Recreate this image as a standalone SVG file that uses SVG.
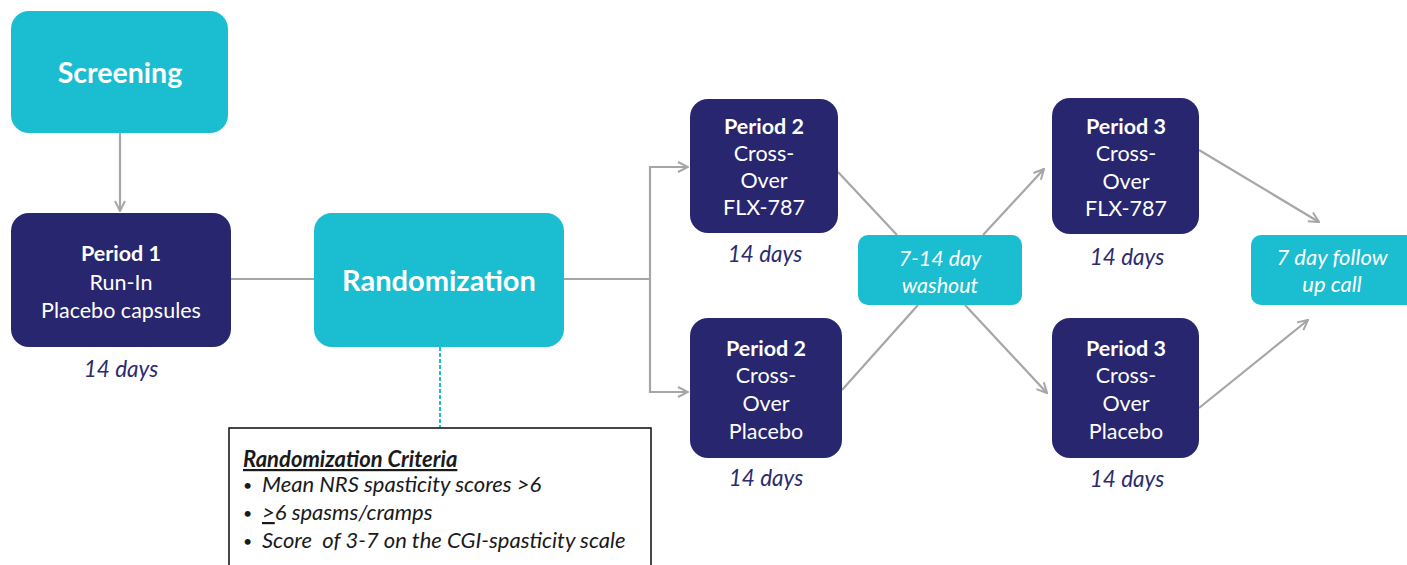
<svg xmlns="http://www.w3.org/2000/svg" width="1407" height="565" viewBox="0 0 1407 565">
<defs>
<marker id="arr" viewBox="0 0 12 12" refX="11" refY="6" markerWidth="12" markerHeight="12" markerUnits="userSpaceOnUse" orient="auto">
<path d="M1,1 L11,6 L1,11" fill="none" stroke="#a6a6a6" stroke-width="2"/>
</marker>
<style>
.cy{fill:#1bbdd0}
.nv{fill:#28266f}
.wt{fill:#ffffff;font-family:Lato,"Liberation Sans",sans-serif;text-anchor:middle}
.b{font-weight:bold}
.days{fill:#2b2a70;font-family:Lato,"Liberation Sans",sans-serif;font-style:italic;font-size:22.5px;text-anchor:middle}
.ln{fill:none;stroke:#a6a6a6;stroke-width:2.2}
.crit{font-family:Lato,"Liberation Sans",sans-serif;font-style:italic;font-size:22px;fill:#1a1a1a}
.bul{font-family:Lato,"Liberation Sans",sans-serif;font-size:16px;fill:#1a1a1a}
</style>
</defs>
<rect width="1407" height="565" fill="#ffffff"/>
<g id="connectors">
<line class="ln" x1="120" y1="133" x2="120" y2="211" marker-end="url(#arr)"/>
<line class="ln" x1="231" y1="279" x2="314" y2="279"/>
<polyline class="ln" points="564,279 650,279"/>
<polyline class="ln" points="688,167 650,167 650,392 688,392"/>
<line class="ln" x1="650" y1="167" x2="688" y2="167" marker-end="url(#arr)"/>
<line class="ln" x1="650" y1="392" x2="688" y2="392" marker-end="url(#arr)"/>
<line class="ln" x1="838" y1="172" x2="897" y2="235"/>
<line class="ln" x1="842" y1="390" x2="918" y2="305"/>
<line class="ln" x1="983" y1="235" x2="1044" y2="169" marker-end="url(#arr)"/>
<line class="ln" x1="965" y1="305" x2="1047" y2="393" marker-end="url(#arr)"/>
<line class="ln" x1="1199" y1="150" x2="1319" y2="222" marker-end="url(#arr)"/>
<line class="ln" x1="1199" y1="408" x2="1308" y2="320" marker-end="url(#arr)"/>
<line x1="440" y1="347" x2="440" y2="428" stroke="#1bbdd0" stroke-width="2" stroke-dasharray="4,2"/>
</g>
<g id="screening">
<rect class="cy" x="11" y="11" width="217" height="122" rx="18"/>
<text class="wt b" x="120" y="83" font-size="28.5">Screening</text>
</g>
<g id="period1">
<rect class="nv" x="11" y="213" width="220" height="134" rx="18"/>
<text class="wt b" x="121" y="261" font-size="21.5">Period 1</text>
<text class="wt" x="121" y="290" font-size="21.5">Run-In</text>
<text class="wt" x="121" y="318" font-size="21.5">Placebo capsules</text>
<text class="days" x="121" y="377">14 days</text>
</g>
<g id="randomization">
<rect class="cy" x="314" y="213" width="250" height="134" rx="18"/>
<text class="wt b" x="439" y="291" font-size="29">Randomization</text>
</g>
<g id="period2a">
<rect class="nv" x="690" y="99" width="148" height="134" rx="18"/>
<text class="wt b" x="764" y="134" font-size="21.5">Period 2</text>
<text class="wt" x="764" y="161" font-size="21.5">Cross-</text>
<text class="wt" x="764" y="188" font-size="21.5">Over</text>
<text class="wt" x="764" y="215" font-size="21.5">FLX-787</text>
<text class="days" x="765" y="262">14 days</text>
</g>
<g id="period2b">
<rect class="nv" x="690" y="318" width="152" height="140" rx="18"/>
<text class="wt b" x="766" y="356" font-size="21.5">Period 2</text>
<text class="wt" x="766" y="383" font-size="21.5">Cross-</text>
<text class="wt" x="766" y="411" font-size="21.5">Over</text>
<text class="wt" x="766" y="439" font-size="21.5">Placebo</text>
<text class="days" x="766" y="486">14 days</text>
</g>
<g id="washout">
<rect class="cy" x="858" y="235" width="164" height="70" rx="10"/>
<text class="wt" x="940" y="266" font-size="21.5" font-style="italic">7-14 day</text>
<text class="wt" x="940" y="293" font-size="21.5" font-style="italic">washout</text>
</g>
<g id="period3a">
<rect class="nv" x="1052" y="98" width="147" height="136" rx="18"/>
<text class="wt b" x="1126" y="134" font-size="21.5">Period 3</text>
<text class="wt" x="1126" y="161" font-size="21.5">Cross-</text>
<text class="wt" x="1126" y="189" font-size="21.5">Over</text>
<text class="wt" x="1126" y="216" font-size="21.5">FLX-787</text>
<text class="days" x="1127" y="265">14 days</text>
</g>
<g id="period3b">
<rect class="nv" x="1052" y="318" width="147" height="140" rx="18"/>
<text class="wt b" x="1126" y="356" font-size="21.5">Period 3</text>
<text class="wt" x="1126" y="383" font-size="21.5">Cross-</text>
<text class="wt" x="1126" y="411" font-size="21.5">Over</text>
<text class="wt" x="1126" y="439" font-size="21.5">Placebo</text>
<text class="days" x="1127" y="487">14 days</text>
</g>
<g id="followup">
<rect class="cy" x="1251" y="235" width="170" height="70" rx="10"/>
<text class="wt" x="1332" y="265" font-size="22" font-style="italic">7 day follow</text>
<text class="wt" x="1332" y="292" font-size="22" font-style="italic">up call</text>
</g>
<g id="criteria">
<rect x="229" y="428" width="422" height="145" fill="#ffffff" stroke="#1a1a1a" stroke-width="1.6"/>
<text class="crit" x="243" y="467" font-weight="bold" text-decoration="underline">Randomization Criteria</text>
<text class="bul" x="243" y="491">•</text>
<text class="crit" x="262" y="492">Mean NRS spasticity scores &gt;6</text>
<text class="bul" x="243" y="519">•</text>
<text class="crit" x="262" y="520"><tspan text-decoration="underline">&gt;</tspan>6 spasms/cramps</text>
<text class="bul" x="243" y="547">•</text>
<text class="crit" x="262" y="548">Score&#160; of 3-7 on the CGI-spasticity scale</text>
</g>
</svg>
